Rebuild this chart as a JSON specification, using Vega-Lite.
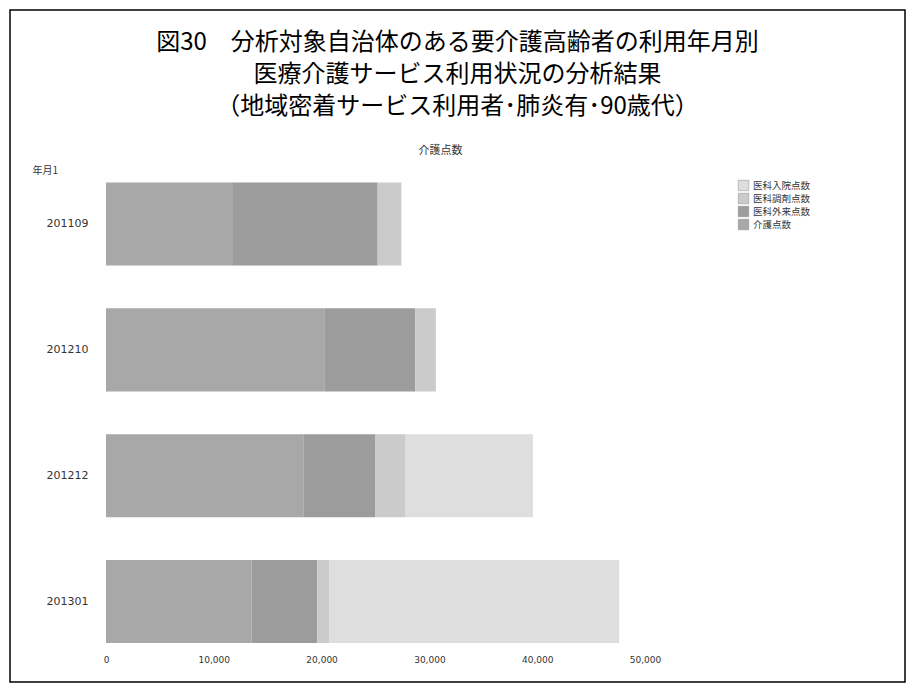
{
  "$schema": "https://vega.github.io/schema/vega-lite/v6.json",
  "autosize": "none",
  "padding": {"left": 10, "top": 10, "right": 7, "bottom": 6},
  "width": 895,
  "height": 672,
  "background": "white",
  "config": {
    "font": "Noto Sans CJK JP",
    "view": {"stroke": "black", "strokeWidth": 1.5}
  },
  "title": {
    "text": ["図30　分析対象自治体のある要介護高齢者の利用年月別", "医療介護サービス利用状況の分析結果", "（地域密着サービス利用者･肺炎有･90歳代）"],
    "fontSize": 24,
    "fontWeight": "normal",
    "lineHeight": 32,
    "color": "black",
    "anchor": "middle",
    "offset": -109
  },
  "data": {
    "values": [
      {"ym": "201109", "cat": "介護点数", "k": 1, "v": 11700},
      {"ym": "201109", "cat": "医科外来点数", "k": 2, "v": 13500},
      {"ym": "201109", "cat": "医科調剤点数", "k": 3, "v": 2200},
      {"ym": "201109", "cat": "医科入院点数", "k": 4, "v": 0},
      {"ym": "201210", "cat": "介護点数", "k": 1, "v": 20300},
      {"ym": "201210", "cat": "医科外来点数", "k": 2, "v": 8400},
      {"ym": "201210", "cat": "医科調剤点数", "k": 3, "v": 1900},
      {"ym": "201210", "cat": "医科入院点数", "k": 4, "v": 0},
      {"ym": "201212", "cat": "介護点数", "k": 1, "v": 18300},
      {"ym": "201212", "cat": "医科外来点数", "k": 2, "v": 6700},
      {"ym": "201212", "cat": "医科調剤点数", "k": 3, "v": 2800},
      {"ym": "201212", "cat": "医科入院点数", "k": 4, "v": 11800},
      {"ym": "201301", "cat": "介護点数", "k": 1, "v": 13500},
      {"ym": "201301", "cat": "医科外来点数", "k": 2, "v": 6100},
      {"ym": "201301", "cat": "医科調剤点数", "k": 3, "v": 1100},
      {"ym": "201301", "cat": "医科入院点数", "k": 4, "v": 26900}
    ]
  },
  "mark": {"type": "bar"},
  "encoding": {
    "y": {
      "field": "ym",
      "type": "nominal",
      "sort": ["201109", "201210", "201212", "201301"],
      "scale": {"paddingInner": 0.34, "paddingOuter": 0.84, "align": 0.816},
      "axis": {
        "offset": -96,
        "ticks": false,
        "domain": false,
        "labelPadding": 18,
        "labelFontSize": 11,
        "labelColor": "#333333",
        "labelFont": "DejaVu Sans",
        "title": "年月1",
        "titleAngle": 0,
        "titleAlign": "left",
        "titleBaseline": "middle",
        "titleX": -74,
        "titleY": 160,
        "titleFontSize": 10,
        "titleFontWeight": "normal",
        "titleColor": "#333333"
      }
    },
    "x": {
      "field": "v",
      "type": "quantitative",
      "stack": "zero",
      "scale": {"domain": [-8905.4, 74118.7], "nice": false, "zero": false},
      "axis": {
        "offset": -32,
        "values": [0, 10000, 20000, 30000, 40000, 50000],
        "format": ",d",
        "ticks": false,
        "domain": false,
        "grid": false,
        "labelPadding": 5,
        "labelFontSize": 9,
        "labelColor": "#333333",
        "labelFont": "DejaVu Sans",
        "title": "介護点数",
        "titleX": 430,
        "titleY": -500,
        "titleAlign": "center",
        "titleBaseline": "middle",
        "titleFontSize": 11,
        "titleFontWeight": "normal",
        "titleColor": "#333333"
      }
    },
    "color": {
      "field": "cat",
      "type": "nominal",
      "scale": {
        "domain": ["医科入院点数", "医科調剤点数", "医科外来点数", "介護点数"],
        "range": ["#dedede", "#cbcbcb", "#9c9c9c", "#a8a8a8"]
      },
      "legend": {
        "orient": "none",
        "legendX": 728,
        "legendY": 170,
        "title": null,
        "symbolType": "square",
        "symbolSize": 110,
        "symbolStrokeColor": "#888888",
        "symbolStrokeWidth": 0.5,
        "labelFontSize": 9.5,
        "labelColor": "#333333",
        "rowPadding": 0,
        "labelOffset": 4
      }
    },
    "order": {"field": "k", "type": "quantitative", "sort": "ascending"}
  }
}
